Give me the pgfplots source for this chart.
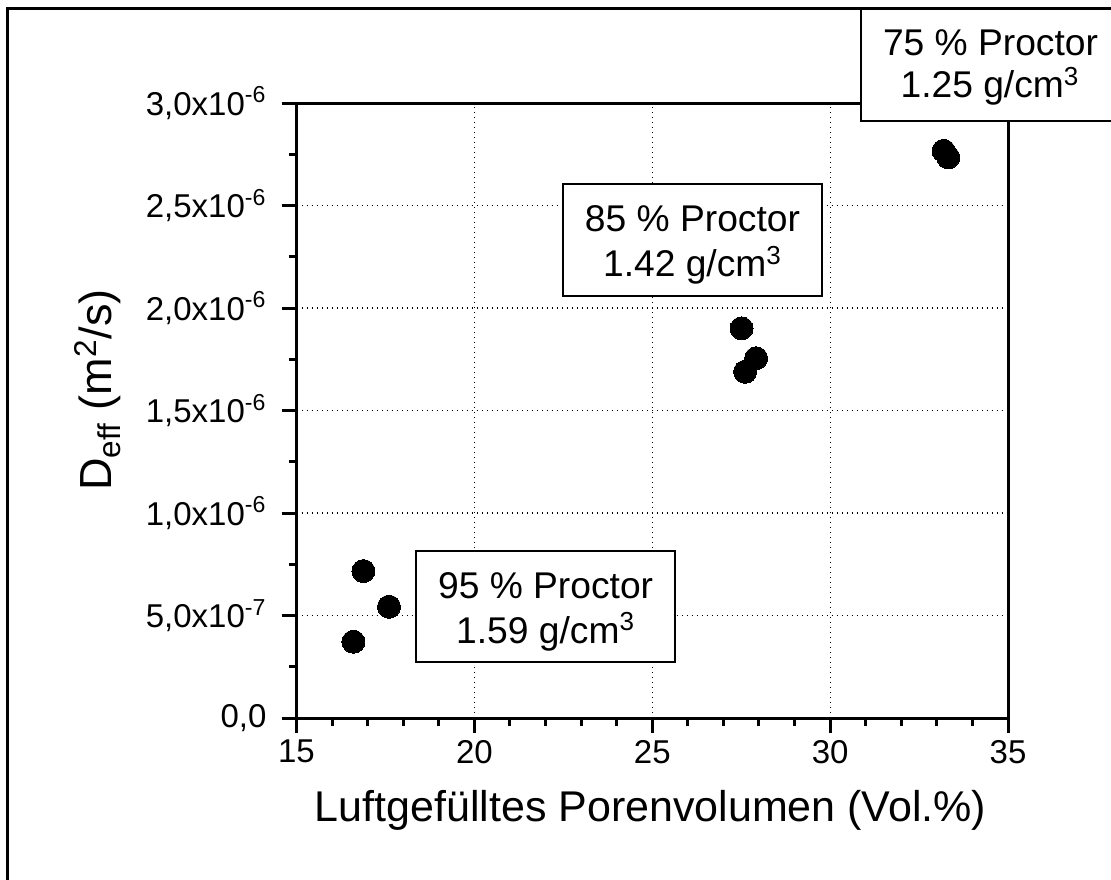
\documentclass[border=0pt]{standalone}
\usepackage{fontspec}
\setmainfont{Liberation Sans}
\usepackage{pgfplots}
\pgfplotsset{compat=1.18}
\begin{document}
\begin{tikzpicture}
\useasboundingbox (0,0) rectangle (555.5pt,-439.5pt);
\clip (0,0) rectangle (555.5pt,-439.5pt);
\begin{axis}[
  at={(148.25pt,-359pt)}, anchor=south west,
  scale only axis, width=355.75pt, height=307.5pt,
  xmin=15, xmax=35, ymin=0, ymax=3,
  xtick={15,20,25,30,35}, xticklabels={15,20,25,30,35},
  minor x tick num=4,
  ytick={0,0.5,1,1.5,2,2.5,3},
  yticklabels={{0,0},{5,0x10\textsuperscript{-7}},{1,0x10\textsuperscript{-6}},{1,5x10\textsuperscript{-6}},{2,0x10\textsuperscript{-6}},{2,5x10\textsuperscript{-6}},{3,0x10\textsuperscript{-6}}},
  minor y tick num=1,
  tick align=outside, tick pos=left,
  major tick length=7.5pt, minor tick length=4pt,
  axis line style={line width=1.5pt},
  every tick/.style={line width=1.5pt, black},
  grid=major,
  major grid style={black, line width=0.6pt, dash pattern=on 0.6pt off 1.9pt},
  ticklabel style={font=\fontsize{16.5}{19}\selectfont},
  yticklabel style={xshift=-4pt},
]
\addplot[only marks, mark=*, mark size=5.75pt, mark options={fill=black, draw=black, line width=0pt}] coordinates {(16.60,0.372) (16.88,0.717) (17.60,0.543)};
\addplot[only marks, mark=*, mark size=5.75pt, mark options={fill=black, draw=black, line width=0pt}] coordinates {(27.51,1.901) (27.92,1.755) (27.61,1.689)};
\addplot[only marks, mark=*, mark size=5.75pt, mark options={fill=black, draw=black, line width=0pt}] coordinates {(33.19,2.767) (33.32,2.735)};
\end{axis}
% outer frame
\draw[line width=1.3pt] (3.85pt,-445pt) -- (3.85pt,-4.35pt) -- (560pt,-4.35pt);
% axis labels
\node[anchor=base, inner sep=0pt, font=\fontsize{21.5}{25}\selectfont] at (325.25pt,-410.85pt) {Luftgefülltes Porenvolumen (Vol.\%)};
\node[anchor=base, inner sep=0pt, rotate=90, font=\fontsize{22.5}{26}\selectfont] at (55.85pt,-195pt) {D\textsubscript{eff} (m\textsuperscript{2}/s)};
% annotation boxes
\draw[line width=1pt, fill=white] (430.35pt,-4.35pt) rectangle (560pt,-60.35pt);
\node[anchor=base, inner sep=0pt, font=\fontsize{18.6}{22}\selectfont] at (495.25pt,-27.6pt) {75 \% Proctor};
\node[anchor=base, inner sep=0pt, font=\fontsize{18.6}{22}\selectfont] at (495pt,-48.9pt) {1.25 g/cm\textsuperscript{3}};
\draw[line width=1pt, fill=white] (281.65pt,-92pt) rectangle (411.15pt,-147.85pt);
\node[anchor=base, inner sep=0pt, font=\fontsize{18.6}{22}\selectfont] at (346.25pt,-115.85pt) {85 \% Proctor};
\node[anchor=base, inner sep=0pt, font=\fontsize{18.6}{22}\selectfont] at (346.25pt,-138.35pt) {1.42 g/cm\textsuperscript{3}};
\draw[line width=1pt, fill=white] (207.85pt,-275.35pt) rectangle (337.5pt,-330.85pt);
\node[anchor=base, inner sep=0pt, font=\fontsize{18.6}{22}\selectfont] at (272.8pt,-299.15pt) {95 \% Proctor};
\node[anchor=base, inner sep=0pt, font=\fontsize{18.6}{22}\selectfont] at (272.8pt,-321.65pt) {1.59 g/cm\textsuperscript{3}};
\end{tikzpicture}
\end{document}
